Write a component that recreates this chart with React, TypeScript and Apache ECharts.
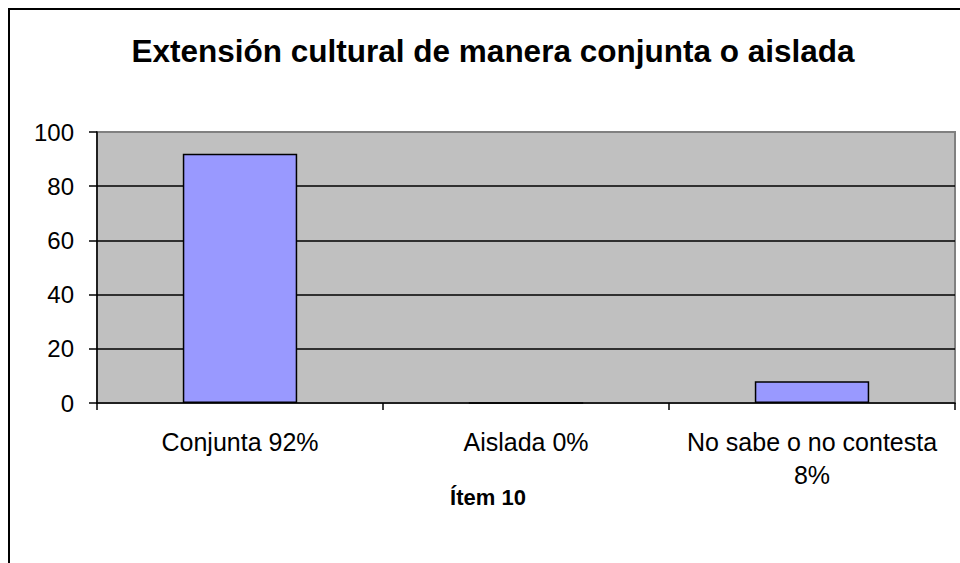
import React, { useEffect, useRef } from "react";
import * as echarts from "echarts";

const titleText = "Extensión cultural de manera conjunta o aislada";
const axisTitle = "Ítem 10";
const categories = ["Conjunta 92%", "Aislada 0%", "No sabe o no contesta\n8%"];
const values = [92, 0, 8];
const yTicks = { min: 0, max: 100, interval: 20 };

const FONT = "'Liberation Sans', Arial, sans-serif";

export default function App() {
  const ref = useRef<HTMLDivElement>(null);
  useEffect(() => {
    if (!ref.current) return;
    const chart = echarts.init(ref.current, undefined, { renderer: "svg" });
    chart.setOption({
      animation: false,
      backgroundColor: "#ffffff",
      textStyle: { fontFamily: FONT },
      grid: {
        left: 97,
        right: 5,
        top: 132,
        bottom: 160,
        show: true,
        backgroundColor: "#C0C0C0",
        borderColor: "#808080",
        borderWidth: 2,
      },
      xAxis: {
        type: "category",
        data: categories,
        boundaryGap: true,
        axisLine: { lineStyle: { color: "#000", width: 1.5 } },
        axisTick: { show: true, length: 7, alignWithLabel: false, lineStyle: { color: "#000", width: 1.5 } },
        axisLabel: {
          interval: 0,
          color: "#000",
          fontSize: 25,
          lineHeight: 33,
          margin: 22,
          fontFamily: FONT,
          align: "center",
        },
        splitLine: { show: false },
      },
      yAxis: {
        type: "value",
        min: yTicks.min,
        max: yTicks.max,
        interval: yTicks.interval,
        axisLine: { show: true, lineStyle: { color: "#000", width: 1.5 } },
        axisTick: { show: true, length: 8, lineStyle: { color: "#000", width: 1.5 } },
        axisLabel: { color: "#000", fontSize: 24, margin: 23, fontFamily: FONT },
        splitLine: {
          show: true,
          showMinLine: false,
          showMaxLine: false,
          lineStyle: { color: "#000", width: 1.5 },
        },
      },
      series: [
        {
          type: "bar",
          data: values,
          barWidth: "40%",
          itemStyle: { color: "#9999FF", borderColor: "#000", borderWidth: 1.5 },
          z: 3,
        },
      ],
      graphic: [
        {
          type: "rect",
          shape: { x: 9, y: 9, width: 1200, height: 800 },
          style: { fill: "none", stroke: "#000", lineWidth: 2 },
          silent: true,
          z: 10,
        },
        {
          type: "text",
          x: 493,
          y: 51,
          style: {
            text: titleText,
            fill: "#000",
            font: `bold 31.5px ${FONT}`,
            textAlign: "center",
            textVerticalAlign: "middle",
          },
        },
        {
          type: "text",
          x: 488,
          y: 497,
          style: {
            text: axisTitle,
            fill: "#000",
            font: `bold 22px ${FONT}`,
            textAlign: "center",
            textVerticalAlign: "middle",
          },
        },
      ],
    });
    return () => chart.dispose();
  }, []);
  return (
    <div
      ref={ref}
      style={{ position: "fixed", left: 0, top: 0, width: 960, height: 563 }}
    />
  );
}
